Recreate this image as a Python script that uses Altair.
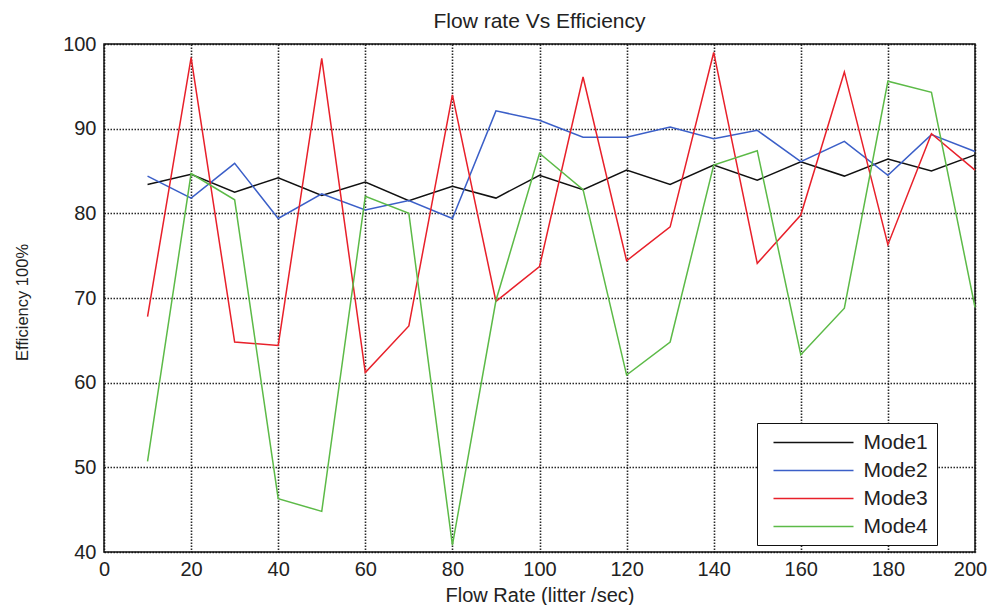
import altair as alt
import pandas as pd

flow = [10, 20, 30, 40, 50, 60, 70, 80, 90, 100, 110, 120, 130, 140, 150, 160, 170, 180, 190, 200]
mode1 = [83.4, 84.6, 82.5, 84.2, 82.1, 83.7, 81.5, 83.2, 81.8, 84.5, 82.8, 85.1, 83.4, 85.7, 83.9, 86.1, 84.4, 86.4, 85.0, 86.9]
mode2 = [84.4, 81.8, 85.9, 79.4, 82.3, 80.4, 81.5, 79.4, 92.1, 91.0, 89.0, 89.0, 90.2, 88.8, 89.8, 86.1, 88.5, 84.5, 89.3, 87.3]
mode3 = [67.8, 98.4, 64.8, 64.4, 98.3, 61.2, 66.7, 94.0, 69.6, 73.7, 96.1, 74.4, 78.4, 99.0, 74.1, 79.8, 96.7, 76.3, 89.4, 85.1]
mode4 = [50.7, 84.7, 81.6, 46.3, 44.8, 82.0, 80.0, 40.8, 69.7, 87.1, 82.8, 60.9, 64.8, 85.7, 87.4, 63.3, 68.8, 95.6, 94.3, 68.9]

series_names = ["Mode1", "Mode2", "Mode3", "Mode4"]
series_colors = ["#111111", "#3b5fc8", "#e8202a", "#5cba47"]
x_ticks = [0, 20, 40, 60, 80, 100, 120, 140, 160, 180, 200]
y_ticks = [40, 50, 60, 70, 80, 90, 100]

rows = []
for name, vals in zip(series_names, [mode1, mode2, mode3, mode4]):
    for i, (f, v) in enumerate(zip(flow, vals)):
        rows.append({"flow": f, "eff": v, "mode": name, "ord": i})
df = pd.DataFrame(rows)

font = "Liberation Sans"

chart = alt.Chart(df).mark_line(strokeWidth=1.5).encode(
    x=alt.X("flow:Q",
            scale=alt.Scale(domain=[0, 200], nice=False),
            axis=alt.Axis(values=x_ticks, title="Flow Rate (litter /sec)",
                          labelPadding=7, titlePadding=6, ticks=False, domain=False,
                          labelFlush=False,
                          labelOffset={"condition": {"test": "datum.value === 200", "value": -5},
                                       "value": 0})),
    y=alt.Y("eff:Q",
            scale=alt.Scale(domain=[40, 100], nice=False, zero=False),
            axis=alt.Axis(values=y_ticks, title="Efficiency 100%",
                          labelPadding=8, ticks=False, domain=False, labelFlush=False,
                          titleX=-82, titleY=258, titleAngle=270,
                          titleAlign="center", titleBaseline="middle",
                          titleFontSize=16.5)),
    color=alt.Color("mode:N",
                    scale=alt.Scale(domain=series_names, range=series_colors),
                    legend=alt.Legend(title=None, orient="none", legendX=653, legendY=379,
                                      symbolType="M-4,0H4", symbolSize=400,
                                      symbolStrokeWidth=1.5, labelFontSize=21,
                                      labelFont=font, labelColor="#222",
                                      labelOffset=39, symbolOffset=37,
                                      rowPadding=7, padding=8.5,
                                      fillColor="white", strokeColor="#111")),
    order="ord:Q",
).properties(
    width=871,
    height=508,
    background="white",
    title=alt.Title("Flow rate Vs Efficiency", fontSize=21, font=font,
                    fontWeight="normal", color="#222", offset=2),
    autosize=alt.AutoSizeParams(type="none"),
    padding={"left": 96, "top": 36, "right": 14, "bottom": 53},
).configure_axis(
    labelFont=font, labelFontSize=20, labelColor="#222",
    titleFont=font, titleFontSize=20, titleColor="#222", titleFontWeight="normal",
    grid=True, gridColor="#111", gridDash=[1.5, 1.5], gridWidth=1.6, gridOpacity=0.9,
).configure_view(
    stroke="#111", strokeWidth=1.5
)

chart.save("out.html", embed_options={"renderer": "svg", "actions": False})
